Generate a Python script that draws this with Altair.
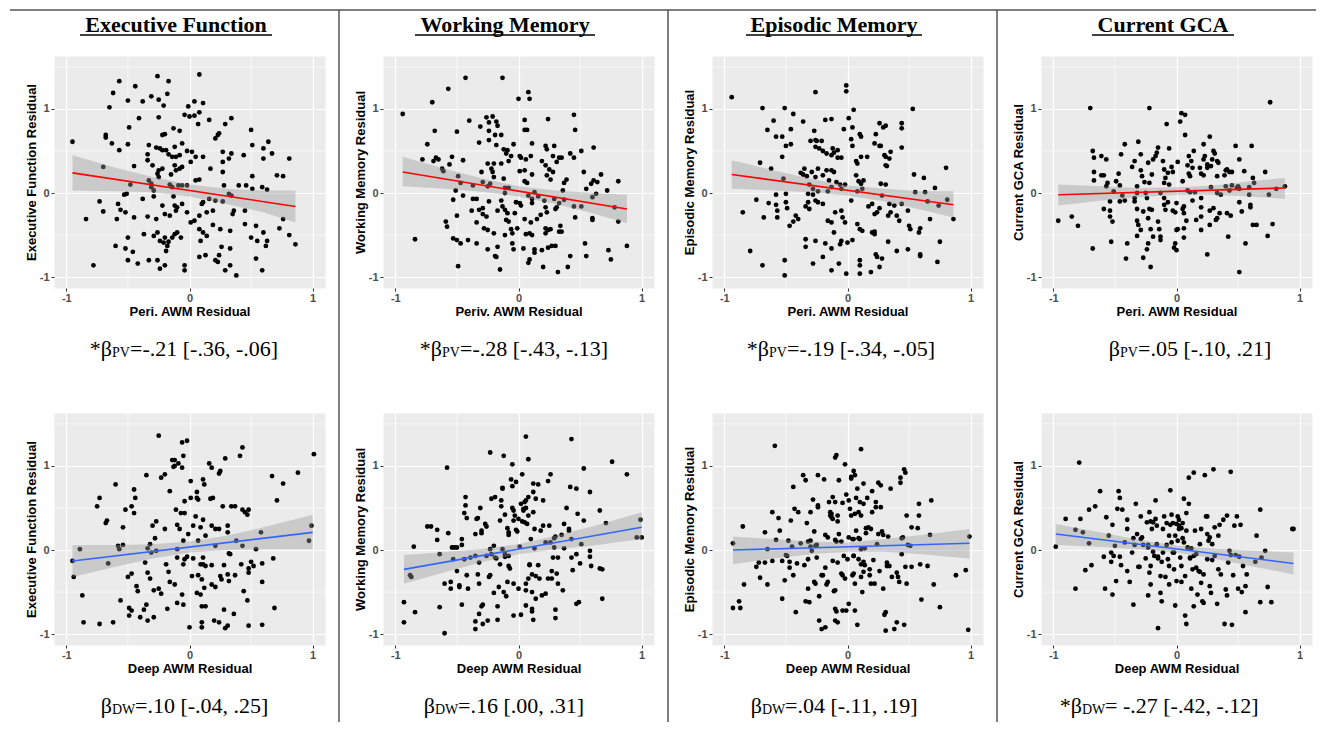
import altair as alt
import pandas as pd

# ---------------- text ----------------
COL_TITLES = ["Executive Function", "Working Memory", "Episodic Memory", "Current GCA"]
Y_TITLES = ["Executive Function Residual", "Working Memory Residual",
            "Episodic Memory Residual", "Current GCA Residual"]
X_TITLES_TOP = ["Peri. AWM Residual", "Periv. AWM Residual", "Peri. AWM Residual", "Peri. AWM Residual"]
X_TITLE_BOTTOM = "Deep AWM Residual"
CAPTIONS_TOP = [("*β", "PV", "=-.21 [-.36, -.06]"), ("*β", "PV", "=-.28 [-.43, -.13]"),
                ("*β", "PV", "=-.19 [-.34, -.05]"), ("β", "PV", "=.05 [-.10, .21]")]
CAPTIONS_BOTTOM = [("β", "DW", "=.10 [-.04, .25]"), ("β", "DW", "=.16 [.00, .31]"),
                   ("β", "DW", "=.04 [-.11, .19]"), ("*β", "DW", "= -.27 [-.42, -.12]")]
TICKS = [-1, 0, 1]
MINOR_X = [-0.5, 0.5]
MINOR_Y = [-0.5, 0.5, 1.5]

# ---------------- points ----------------
EF_PV = [(-0.95,0.61),(-0.57,1.33),(-0.62,1.19),(-0.44,1.27),(-0.26,1.39),(-0.17,1.33),(0.08,1.41),(-0.18,1.18),(-0.25,1.11),(-0.38,1.09),(-0.31,1.15),(-0.50,1.10),(-0.21,1.04),(-0.65,1.02),(-0.01,1.03),(0.04,1.09),(0.11,1.07),(0.08,0.96),(-0.04,0.93),(0.0,0.91),(0.04,0.92),(0.07,0.82),(-0.25,0.90),(-0.41,0.89),(-0.49,0.78),(-0.68,0.69),(-0.68,0.66),(-0.63,0.59),(-0.50,0.58),(-0.57,0.51),(-0.70,0.31),(-0.45,0.32),(-0.33,0.57),(-0.34,0.46),(-0.34,0.39),(-0.27,0.54),(-0.30,0.33),(-0.22,0.69),(-0.20,0.70),(-0.13,0.77),(-0.08,0.74),(-0.24,0.53),(-0.22,0.51),(-0.19,0.51),(-0.17,0.46),(-0.14,0.43),(-0.11,0.43),(-0.08,0.45),(-0.06,0.59),(-0.12,0.55),(-0.12,0.33),(-0.11,0.27),(-0.08,0.29),(-0.15,0.22),(-0.25,0.27),(-0.22,0.29),(-0.26,0.23),(-0.02,0.50),(0.02,0.49),(0.05,0.43),(0.11,0.43),(0.01,0.37),(-0.06,0.31),(0.05,0.15),(0.08,0.16),(0.16,0.87),(0.29,0.82),(0.34,0.89),(0.21,0.65),(0.23,0.69),(0.24,0.71),(0.27,0.49),(0.27,0.37),(0.32,0.41),(0.34,0.47),(0.27,0.25),(0.17,0.29),(0.50,0.75),(0.51,0.57),(0.44,0.45),(0.64,0.61),(0.60,0.53),(0.67,0.47),(0.60,0.41),(0.81,0.41),(0.71,0.21),(0.76,0.20),(0.51,0.20),(0.28,0.09),(0.40,0.09),(0.46,0.09),(0.51,0.05),(0.59,0.07),(0.63,0.04),(0.32,-0.01),(0.34,-0.03),(0.21,-0.09),(0.27,-0.10),(0.11,-0.11),(0.16,-0.07),(-0.02,0.09),(-0.09,0.09),(-0.06,0.09),(-0.16,0.10),(-0.14,0.07),(-0.25,0.19),(-0.33,0.15),(-0.31,0.11),(-0.31,0.07),(-0.29,0.03),(-0.48,0.10),(-0.51,-0.01),(-0.53,-0.02),(-0.73,-0.10),(-0.70,-0.22),(-0.84,-0.31),(-0.58,-0.13),(-0.56,-0.20),(-0.52,-0.23),(-0.59,-0.31),(-0.45,-0.29),(-0.38,-0.07),(-0.29,-0.04),(-0.34,-0.28),(-0.27,-0.31),(-0.22,-0.15),(-0.20,-0.25),(-0.16,-0.27),(-0.13,-0.04),(-0.12,-0.15),(-0.10,-0.17),(-0.11,-0.21),(-0.06,-0.13),(-0.02,-0.23),(0.01,-0.35),(0.04,-0.33),(0.08,-0.27),(0.10,-0.13),(0.14,-0.23),(0.19,-0.21),(0.19,-0.38),(0.25,-0.43),(0.33,-0.45),(0.11,-0.47),(0.14,-0.51),(0.09,-0.57),(0.08,-0.43),(-0.10,-0.47),(-0.12,-0.49),(-0.14,-0.53),(-0.07,-0.53),(-0.20,-0.53),(-0.26,-0.47),(-0.24,-0.57),(-0.29,-0.51),(-0.37,-0.49),(-0.50,-0.53),(-0.60,-0.63),(-0.52,-0.66),(-0.46,-0.70),(-0.21,-0.59),(-0.17,-0.58),(-0.18,-0.63),(-0.19,-0.69),(-0.50,-0.80),(-0.42,-0.84),(-0.33,-0.80),(-0.26,-0.80),(-0.24,-0.90),(-0.20,-0.86),(-0.78,-0.86),(-0.04,-0.86),(-0.04,-0.92),(0.08,-0.76),(0.13,-0.74),(0.21,-0.80),(0.23,-0.82),(0.24,-0.74),(0.29,-0.92),(0.33,-0.86),(0.38,-0.98),(0.33,-0.66),(0.26,-0.64),(0.45,-0.37),(0.50,-0.53),(0.54,-0.39),(0.55,-0.57),(0.60,-0.47),(0.63,-0.57),(0.62,-0.63),(0.54,-0.78),(0.59,-0.92),(0.73,-0.42),(0.76,-0.31),(0.81,-0.50),(0.86,-0.61),(0.35,-0.25),(0.36,-0.21),(0.45,-0.21)]

WM_PV = [(-0.94,0.94),(-0.43,1.37),(-0.13,1.37),(-0.57,1.24),(-0.70,1.08),(0.0,1.12),(0.08,1.20),(0.09,1.12),(-0.68,0.74),(-0.74,0.58),(-0.78,0.40),(-0.69,0.38),(-0.67,0.42),(-0.65,0.40),(-0.62,0.29),(-0.61,0.26),(-0.56,0.34),(-0.54,0.43),(-0.50,0.73),(-0.40,0.86),(-0.45,0.39),(-0.49,0.20),(-0.51,0.03),(-0.53,-0.08),(-0.50,-0.27),(-0.45,-0.03),(-0.47,0.12),(-0.59,-0.34),(-0.58,-0.40),(-0.84,-0.55),(-0.53,-0.54),(-0.50,-0.56),(-0.47,-0.60),(-0.41,-0.56),(-0.49,-0.87),(-0.34,-0.60),(-0.25,-0.67),(-0.19,-0.75),(-0.17,-0.64),(-0.15,-0.91),(-0.18,-0.76),(-0.37,0.09),(-0.32,0.60),(-0.31,0.79),(-0.26,0.90),(-0.24,0.84),(-0.21,0.91),(-0.18,0.85),(-0.17,0.80),(-0.24,0.74),(-0.19,0.69),(-0.14,0.69),(-0.24,0.63),(-0.18,0.57),(-0.12,0.52),(-0.10,0.47),(-0.09,0.51),(-0.06,0.44),(-0.04,0.58),(-0.08,0.38),(-0.14,0.35),(-0.20,0.35),(-0.25,0.35),(-0.22,0.29),(-0.21,0.25),(-0.30,0.25),(-0.29,0.13),(-0.23,0.11),(-0.25,0.08),(-0.20,0.19),(-0.12,0.17),(-0.11,0.06),(-0.11,0.0),(-0.08,0.06),(-0.37,-0.07),(-0.34,-0.07),(-0.38,-0.21),(-0.32,-0.20),(-0.29,-0.18),(-0.29,-0.25),(-0.26,-0.28),(-0.34,-0.35),(-0.28,-0.42),(-0.25,-0.44),(-0.20,-0.48),(-0.17,-0.21),(-0.24,-0.10),(-0.14,-0.09),(-0.13,-0.16),(-0.11,-0.20),(-0.09,-0.24),(-0.10,-0.32),(-0.08,-0.34),(-0.11,-0.50),(-0.06,-0.43),(-0.05,-0.48),(-0.05,-0.60),(-0.04,-0.67),(-0.02,-0.11),(0.01,-0.12),(0.02,-0.15),(-0.03,-0.24),(-0.01,-0.42),(0.05,-0.31),(0.04,-0.66),(0.08,-0.83),(0.09,-0.79),(0.13,-0.67),(0.06,-0.49),(0.09,-0.48),(0.11,-0.50),(0.10,-0.35),(0.15,-0.31),(0.18,-0.26),(0.11,-0.12),(0.08,-0.03),(0.11,-0.07),(0.13,0.01),(0.16,-0.04),(0.21,-0.09),(0.07,0.12),(0.05,0.14),(0.11,0.22),(0.05,0.27),(0.01,0.26),(0.06,0.40),(0.10,0.44),(0.01,0.44),(0.02,0.42),(0.05,0.87),(0.05,0.75),(0.07,0.75),(0.11,0.59),(0.24,0.88),(0.22,0.56),(0.23,0.52),(0.29,0.56),(0.28,0.44),(0.19,0.38),(0.22,0.33),(0.25,0.28),(0.31,0.37),(0.33,0.42),(0.35,0.42),(0.28,0.25),(0.26,0.16),(0.23,0.21),(0.39,0.16),(0.37,0.12),(0.36,0.03),(0.29,-0.07),(0.33,-0.12),(0.37,-0.08),(0.31,-0.17),(0.30,-0.19),(0.22,-0.17),(0.23,-0.23),(0.22,-0.42),(0.24,-0.44),(0.22,-0.48),(0.26,-0.43),(0.34,-0.39),(0.33,-0.46),(0.35,-0.46),(0.30,-0.63),(0.27,-0.63),(0.24,-0.65),(0.19,-0.68),(0.13,-0.71),(0.20,-0.88),(0.32,-0.94),(0.40,-0.88),(0.42,-0.75),(0.45,0.93),(0.46,0.75),(0.42,0.47),(0.45,0.42),(0.51,0.50),(0.61,0.54),(0.53,0.25),(0.55,0.05),(0.59,0.11),(0.61,0.15),(0.64,0.13),(0.67,0.22),(0.63,-0.01),(0.60,-0.05),(0.51,-0.16),(0.45,-0.16),(0.46,-0.29),(0.60,-0.30),(0.60,-0.32),(0.54,-0.60),(0.55,-0.75),(0.72,0.03),(0.81,0.14),(0.78,-0.17),(0.81,-0.34),(0.73,-0.68),(0.75,-0.79),(0.88,-0.63)]

EM_PV = [(-0.94,1.14),(-0.69,1.01),(-0.51,1.01),(-0.44,0.94),(-0.60,0.86),(-0.65,0.75),(-0.36,0.85),(-0.26,1.20),(-0.01,1.28),(-0.01,1.21),(0.05,0.99),(0.01,0.89),(-0.03,0.76),(0.04,0.78),(-0.18,0.87),(-0.13,0.88),(-0.46,0.76),(-0.53,0.67),(-0.46,0.58),(-0.50,0.56),(-0.27,0.74),(-0.26,0.63),(-0.30,0.62),(-0.25,0.62),(-0.21,0.62),(-0.26,0.55),(-0.23,0.53),(-0.20,0.50),(-0.17,0.47),(-0.12,0.53),(-0.11,0.48),(-0.08,0.51),(-0.13,0.45),(-0.08,0.42),(-0.05,0.42),(0.03,0.64),(0.04,0.56),(0.10,0.70),(0.11,0.67),(0.11,0.43),(0.07,0.38),(0.08,0.35),(0.16,0.43),(0.22,0.59),(0.23,0.70),(0.26,0.83),(0.29,0.78),(0.31,0.80),(0.26,0.56),(0.27,0.56),(0.30,0.45),(0.31,0.43),(0.34,0.41),(0.31,0.33),(0.32,0.32),(0.35,0.49),(0.44,0.83),(0.44,0.77),(0.44,0.54),(0.53,1.00),(-0.58,0.67),(-0.71,0.36),(-0.62,0.29),(-0.53,0.43),(-0.52,0.17),(-0.38,0.24),(-0.36,0.22),(-0.35,0.29),(-0.33,0.20),(-0.31,0.10),(-0.32,-0.01),(-0.29,0.25),(-0.26,0.19),(-0.24,0.29),(-0.20,0.21),(-0.17,0.27),(-0.13,0.27),(-0.11,0.25),(-0.15,0.15),(-0.09,0.13),(-0.06,0.10),(-0.02,0.10),(-0.13,0.07),(-0.16,0.02),(-0.05,0.05),(-0.28,0.05),(-0.24,0.02),(-0.28,-0.02),(-0.26,-0.09),(-0.24,-0.11),(-0.20,-0.13),(-0.32,-0.11),(-0.34,-0.16),(-0.31,-0.19),(-0.42,-0.27),(-0.40,-0.31),(-0.44,-0.34),(-0.47,-0.39),(-0.49,-0.18),(-0.50,-0.11),(-0.58,-0.14),(-0.57,-0.21),(-0.57,-0.29),(-0.64,-0.12),(-0.68,-0.29),(-0.74,-0.08),(-0.85,-0.23),(-0.58,-0.02),(-0.50,-0.01),(-0.79,-0.69),(-0.69,-0.86),(-0.51,-0.80),(-0.51,-0.98),(-0.34,-0.55),(-0.34,-0.64),(-0.26,-0.57),(-0.28,-0.84),(-0.20,-0.76),(-0.18,-0.60),(-0.13,-0.66),(-0.13,-0.92),(-0.07,-0.84),(-0.06,-0.61),(-0.05,-0.57),(-0.02,-0.35),(-0.04,-0.29),(-0.05,-0.21),(-0.10,-0.23),(-0.13,-0.35),(-0.16,-0.33),(-0.11,-0.47),(-0.01,-0.96),(0.0,-0.59),(0.04,-0.56),(0.03,-0.09),(0.07,0.21),(0.09,0.14),(0.13,0.15),(0.11,0.11),(0.08,0.02),(0.12,0.05),(0.08,-0.37),(0.10,-0.43),(0.12,-0.45),(0.10,-0.80),(0.10,-0.86),(0.10,-0.96),(0.19,-0.94),(0.17,-0.16),(0.20,-0.13),(0.22,-0.25),(0.24,-0.23),(0.20,-0.47),(0.22,-0.46),(0.22,-0.49),(0.23,-0.73),(0.24,-0.76),(0.28,-0.78),(0.26,-0.88),(0.28,-0.03),(0.27,0.11),(0.31,0.10),(0.26,-0.18),(0.34,-0.13),(0.33,-0.27),(0.33,-0.58),(0.38,-0.15),(0.40,-0.27),(0.42,-0.33),(0.40,-0.69),(0.35,-0.23),(0.44,-0.13),(0.49,-0.21),(0.50,-0.39),(0.51,-0.43),(0.49,-0.67),(0.54,0.22),(0.55,0.01),(0.58,-0.47),(0.59,-0.42),(0.59,-0.75),(0.59,-0.73),(0.62,0.18),(0.63,0.01),(0.65,-0.10),(0.67,-0.31),(0.71,0.06),(0.73,-0.82),(0.75,-0.58),(0.74,-0.15),(0.80,0.30),(0.81,-0.08),(0.86,-0.31)]

GCA_PV = [(-0.96,-0.33),(-0.85,-0.28),(-0.80,-0.39),(-0.70,1.01),(-0.68,0.50),(-0.67,0.42),(-0.67,0.25),(-0.67,0.15),(-0.68,-0.66),(-0.61,0.44),(-0.57,0.40),(-0.61,0.21),(-0.59,0.21),(-0.56,0.12),(-0.57,0.08),(-0.59,-0.19),(-0.54,-0.10),(-0.54,-0.21),(-0.54,-0.28),(-0.52,-0.34),(-0.53,-0.58),(-0.51,0.02),(-0.49,0.14),(-0.47,0.23),(-0.45,0.46),(-0.42,0.58),(-0.46,0.09),(-0.44,-0.03),(-0.46,-0.10),(-0.42,-0.09),(-0.40,-0.60),(-0.41,-0.78),(-0.36,0.31),(-0.34,0.38),(-0.31,0.61),(-0.29,0.46),(-0.29,0.27),(-0.32,0.08),(-0.32,0.0),(-0.34,-0.06),(-0.34,-0.10),(-0.32,-0.19),(-0.32,-0.33),(-0.31,-0.38),(-0.29,-0.44),(-0.32,-0.51),(-0.27,-0.77),(-0.24,-0.67),(-0.23,-0.60),(-0.21,-0.88),(-0.28,0.20),(-0.26,0.13),(-0.23,0.36),(-0.25,0.0),(-0.24,-0.06),(-0.22,0.12),(-0.22,1.01),(-0.20,0.22),(-0.19,0.40),(-0.17,0.44),(-0.16,0.48),(-0.15,0.54),(-0.22,-0.19),(-0.20,-0.20),(-0.27,-0.22),(-0.23,-0.30),(-0.21,-0.43),(-0.19,-0.52),(-0.15,-0.34),(-0.14,-0.43),(-0.13,-0.52),(-0.13,-0.56),(-0.13,0.0),(-0.11,0.38),(-0.10,0.28),(-0.08,0.82),(-0.06,0.53),(-0.09,0.18),(-0.07,0.24),(-0.10,0.12),(-0.10,-0.06),(-0.10,-0.14),(-0.09,-0.20),(-0.07,-0.11),(-0.06,0.10),(-0.04,0.31),(-0.03,0.25),(0.01,0.37),(0.0,-0.12),(-0.03,-0.21),(-0.01,-0.23),(0.0,-0.44),(0.01,-0.43),(-0.01,-0.60),(-0.02,-0.65),(0.0,-0.68),(0.03,0.85),(0.04,0.95),(0.07,0.93),(0.07,0.69),(0.05,0.14),(0.05,-0.19),(0.06,-0.16),(0.06,-0.24),(0.08,-0.33),(0.06,-0.42),(0.06,-0.53),(0.09,0.33),(0.10,0.23),(0.10,0.44),(0.12,0.38),(0.11,0.20),(0.13,0.30),(0.09,0.03),(0.11,0.01),(0.13,-0.09),(0.14,0.50),(0.16,-0.32),(0.20,-0.28),(0.20,-0.17),(0.20,-0.06),(0.15,0.01),(0.22,0.58),(0.22,0.40),(0.19,0.30),(0.20,0.23),(0.22,0.21),(0.23,0.44),(0.25,0.34),(0.27,0.67),(0.25,0.30),(0.28,0.32),(0.30,0.50),(0.31,0.47),(0.29,0.40),(0.33,0.38),(0.34,0.36),(0.33,0.20),(0.28,0.07),(0.30,-0.18),(0.27,-0.21),(0.27,-0.38),(0.20,-0.44),(0.25,-0.73),(0.33,0.0),(0.36,-0.02),(0.35,-0.24),(0.33,-0.30),(0.32,-0.32),(0.39,0.21),(0.40,0.27),(0.41,0.28),(0.43,0.25),(0.45,0.25),(0.40,0.08),(0.43,0.03),(0.45,0.09),(0.41,-0.24),(0.44,-0.27),(0.42,-0.52),(0.48,0.56),(0.51,0.40),(0.51,0.05),(0.50,0.08),(0.49,0.06),(0.51,-0.11),(0.53,-0.22),(0.51,-0.94),(0.55,0.26),(0.56,-0.60),(0.59,0.07),(0.59,-0.02),(0.60,-0.14),(0.60,-0.17),(0.61,0.56),(0.62,0.18),(0.63,0.12),(0.62,-0.38),(0.65,-0.38),(0.72,0.25),(0.74,-0.51),(0.75,-0.02),(0.76,1.08),(0.78,-0.37),(0.81,0.05),(0.88,0.08)]

EF_DW = [(-0.95,-0.13),(-0.94,-0.32),(-0.89,0.01),(-0.87,-0.54),(-0.86,-0.86),(-0.75,0.52),(-0.73,0.62),(-0.73,-0.88),(-0.68,0.32),(-0.67,0.35),(-0.66,-0.16),(-0.62,-0.86),(-0.60,0.78),(-0.58,0.05),(-0.57,0.01),(-0.56,-0.60),(-0.54,0.27),(-0.54,0.06),(-0.52,0.48),(-0.50,-0.32),(-0.49,-0.69),(-0.47,-0.72),(-0.49,-0.78),(-0.47,-0.28),(-0.47,0.52),(-0.45,0.72),(-0.44,0.62),(-0.45,0.44),(-0.43,-0.43),(-0.42,-0.49),(-0.40,-0.80),(-0.37,-0.71),(-0.36,-0.15),(-0.35,0.89),(-0.34,0.02),(-0.34,-0.27),(-0.35,-0.65),(-0.34,-0.84),(-0.32,-0.34),(-0.31,-0.03),(-0.32,0.07),(-0.30,0.29),(-0.29,-0.80),(-0.29,-0.48),(-0.28,0.14),(-0.27,0.34),(-0.25,1.36),(-0.23,0.86),(-0.20,0.90),(-0.27,-0.01),(-0.25,-0.46),(-0.23,-0.52),(-0.20,0.25),(-0.18,-0.70),(-0.17,-0.26),(-0.19,-0.17),(-0.16,0.70),(-0.16,-0.38),(-0.14,1.07),(-0.13,0.99),(-0.12,1.07),(-0.12,1.00),(-0.10,0.01),(-0.10,-0.09),(-0.11,0.48),(-0.10,0.30),(-0.12,-0.41),(-0.10,-0.63),(-0.09,1.03),(-0.08,0.25),(-0.07,0.44),(-0.06,0.98),(-0.06,1.28),(-0.05,1.12),(-0.02,1.30),(-0.04,0.44),(-0.04,0.58),(-0.05,0.11),(-0.04,-0.11),(-0.05,-0.17),(-0.06,-0.53),(-0.05,-0.65),(-0.02,-0.08),(-0.01,0.19),(0.0,-0.92),(0.01,0.82),(0.01,0.62),(0.02,-0.31),(0.03,-0.10),(0.03,0.29),(0.05,0.40),(0.06,0.69),(0.06,0.62),(0.07,0.60),(0.07,-0.30),(0.06,-0.51),(0.07,0.11),(0.09,0.27),(0.09,-0.17),(0.10,-0.86),(0.10,-0.92),(0.10,-0.35),(0.11,-0.09),(0.11,0.84),(0.12,0.78),(0.11,0.36),(0.13,0.17),(0.11,-0.17),(0.13,-0.19),(0.13,-0.67),(0.09,-0.53),(0.12,-0.45),(0.10,-0.67),(0.16,1.03),(0.17,0.61),(0.18,0.98),(0.19,0.62),(0.18,0.29),(0.18,-0.18),(0.18,-0.41),(0.20,-0.84),(0.21,0.05),(0.21,-0.44),(0.21,0.25),(0.24,0.25),(0.24,0.91),(0.25,0.94),(0.24,-0.86),(0.25,-0.31),(0.26,-0.35),(0.27,0.52),(0.28,-0.18),(0.28,-0.71),(0.29,-0.93),(0.29,1.09),(0.31,-0.29),(0.31,0.21),(0.31,0.29),(0.32,-0.04),(0.33,-0.05),(0.32,-0.37),(0.31,-0.90),(0.34,0.52),(0.36,-0.76),(0.37,0.52),(0.37,-0.30),(0.38,0.11),(0.41,1.12),(0.43,1.22),(0.43,0.48),(0.43,0.05),(0.42,-0.17),(0.45,0.45),(0.44,-0.49),(0.47,0.42),(0.48,0.48),(0.48,-0.22),(0.48,-0.27),(0.47,-0.60),(0.48,-0.90),(0.50,-0.14),(0.52,-0.19),(0.54,0.01),(0.58,0.21),(0.59,-0.16),(0.59,-0.38),(0.59,-0.89),(0.67,0.88),(0.68,-0.10),(0.69,-0.69),(0.71,0.59),(0.76,0.79),(0.88,0.92),(0.97,0.11),(0.99,0.29),(1.01,1.14)]

WM_DW = [(-0.93,-0.62),(-0.93,-0.86),(-0.88,-0.30),(-0.87,-0.32),(-0.85,0.04),(-0.84,-0.74),(-0.74,0.28),(-0.71,0.28),(-0.66,0.24),(-0.66,0.12),(-0.64,-0.05),(-0.64,-0.68),(-0.60,-0.40),(-0.60,-0.99),(-0.58,0.98),(-0.57,0.20),(-0.55,-0.38),(-0.55,-0.46),(-0.54,0.03),(-0.52,0.03),(-0.50,0.03),(-0.53,-0.11),(-0.50,-0.25),(-0.48,-0.42),(-0.48,-0.44),(-0.46,0.06),(-0.46,0.13),(-0.46,-0.65),(-0.44,-0.11),(-0.43,0.63),(-0.43,0.53),(-0.44,0.44),(-0.42,0.38),(-0.42,-0.30),(-0.41,-0.46),(-0.39,-0.09),(-0.35,-0.07),(-0.35,0.19),(-0.34,0.37),(-0.33,0.38),(-0.35,-0.94),(-0.35,-0.85),(-0.33,-0.29),(-0.32,-0.40),(-0.32,-0.76),(-0.31,0.50),(-0.30,0.23),(-0.30,0.20),(-0.32,-0.15),(-0.30,-0.67),(-0.29,-0.65),(-0.29,-0.88),(-0.27,0.31),(-0.26,0.28),(-0.26,-0.07),(-0.25,-0.84),(-0.23,-0.30),(-0.24,-0.32),(-0.23,1.16),(-0.23,0.01),(-0.22,0.61),(-0.22,-0.05),(-0.20,0.05),(-0.20,-0.51),(-0.19,0.63),(-0.19,-0.09),(-0.18,-0.10),(-0.17,-0.83),(-0.17,-0.67),(-0.16,-0.44),(-0.15,-0.17),(-0.15,0.35),(-0.14,0.59),(-0.14,0.52),(-0.13,0.01),(-0.12,-0.50),(-0.13,0.74),(-0.13,0.73),(-0.12,1.12),(-0.11,0.42),(-0.11,-0.05),(-0.11,-0.08),(-0.10,-0.55),(-0.09,-0.38),(-0.09,0.26),(-0.08,0.21),(-0.08,0.18),(-0.08,-0.07),(-0.08,-0.19),(-0.07,-0.22),(-0.06,0.84),(-0.05,1.02),(-0.05,0.76),(-0.05,0.50),(-0.04,0.47),(-0.03,0.41),(-0.04,0.35),(-0.04,-0.40),(-0.04,-0.78),(-0.02,0.24),(-0.02,0.81),(-0.01,0.22),(0.0,-0.46),(0.0,0.37),(0.01,0.04),(0.02,-0.77),(0.03,0.90),(0.03,0.34),(0.02,0.55),(0.04,0.49),(0.04,0.47),(0.05,0.33),(0.06,0.50),(0.05,0.57),(0.06,-0.66),(0.06,1.35),(0.06,0.59),(0.07,0.31),(0.08,0.63),(0.08,1.08),(0.08,0.41),(0.06,-0.40),(0.06,-0.48),(0.08,-0.34),(0.09,-0.18),(0.09,-0.17),(0.10,0.13),(0.11,-0.29),(0.11,-0.50),(0.11,-0.70),(0.11,-0.73),(0.12,-0.83),(0.12,0.79),(0.12,0.69),(0.12,0.45),(0.13,0.25),(0.13,0.02),(0.14,0.61),(0.14,-0.31),(0.14,-0.58),(0.16,0.78),(0.16,-0.18),(0.17,-0.34),(0.18,0.23),(0.19,-0.54),(0.20,0.59),(0.20,0.29),(0.22,0.09),(0.22,-0.52),(0.24,-0.34),(0.24,0.82),(0.25,0.29),(0.26,0.90),(0.26,0.09),(0.27,-0.25),(0.27,-0.34),(0.29,0.03),(0.28,-0.09),(0.29,0.14),(0.30,-0.81),(0.30,-0.71),(0.30,0.16),(0.31,-0.28),(0.32,-0.09),(0.32,-0.40),(0.35,0.18),(0.36,-0.48),(0.37,0.02),(0.37,0.31),(0.39,0.50),(0.41,0.25),(0.41,0.23),(0.42,0.75),(0.43,1.32),(0.43,0.13),(0.43,-0.09),(0.44,-0.24),(0.47,0.73),(0.47,-0.64),(0.47,-0.05),(0.48,0.43),(0.49,-0.62),(0.50,-0.16),(0.51,0.07),(0.53,0.97),(0.53,0.35),(0.58,0.69),(0.58,-0.01),(0.58,-0.08),(0.59,-0.19),(0.66,0.47),(0.66,-0.22),(0.68,-0.23),(0.68,-0.58),(0.71,0.32),(0.76,1.05),(0.88,0.90),(0.96,0.15),(0.99,0.36),(1.0,0.15)]

EM_DW = [(-0.93,0.08),(-0.93,-0.69),(-0.88,-0.61),(-0.87,-0.69),(-0.85,0.28),(-0.84,-0.41),(-0.74,-0.20),(-0.72,-0.15),(-0.71,-0.33),(-0.67,0.21),(-0.67,-0.15),(-0.65,-0.41),(-0.65,0.01),(-0.61,-0.13),(-0.61,0.45),(-0.59,1.24),(-0.58,0.12),(-0.56,0.38),(-0.55,0.23),(-0.53,-0.58),(-0.53,-0.13),(-0.51,-0.36),(-0.50,-0.06),(-0.49,-0.07),(-0.48,0.11),(-0.47,-0.14),(-0.47,-0.21),(-0.46,0.35),(-0.45,0.04),(-0.44,0.75),(-0.44,-0.30),(-0.43,0.49),(-0.42,-0.74),(-0.41,-0.16),(-0.40,0.45),(-0.38,0.08),(-0.36,0.89),(-0.35,-0.18),(-0.34,-0.61),(-0.34,0.83),(-0.33,0.32),(-0.32,0.10),(-0.32,-0.11),(-0.32,-0.46),(-0.31,-0.62),(-0.30,0.11),(-0.30,0.45),(-0.30,0.04),(-0.29,-0.01),(-0.28,0.60),(-0.27,0.22),(-0.27,-0.38),(-0.26,0.05),(-0.25,0.06),(-0.25,-0.09),(-0.26,-0.40),(-0.24,0.51),(-0.24,0.53),(-0.24,0.89),(-0.23,-0.55),(-0.23,-0.84),(-0.21,-0.30),(-0.21,-0.94),(-0.20,-0.30),(-0.19,0.84),(-0.18,0.18),(-0.18,-0.21),(-0.17,-0.41),(-0.16,-0.38),(-0.18,-0.92),(-0.16,0.15),(-0.15,0.57),(-0.14,0.45),(-0.14,0.41),(-0.13,0.39),(-0.13,0.43),(-0.12,0.63),(-0.12,0.37),(-0.12,-0.13),(-0.11,-0.49),(-0.10,-0.48),(-0.10,1.10),(-0.09,1.13),(-0.10,0.57),(-0.10,0.12),(-0.09,0.10),(-0.08,0.34),(-0.08,0.41),(-0.10,-0.70),(-0.10,-0.84),(-0.08,-0.86),(-0.09,-0.73),(-0.08,-0.15),(-0.07,0.83),(-0.07,0.19),(-0.05,0.10),(-0.05,-0.28),(-0.04,-0.30),(-0.04,-0.72),(-0.04,0.56),(-0.03,-0.07),(-0.02,-0.34),(-0.02,1.02),(-0.01,0.66),(-0.01,-0.72),(0.0,-0.11),(0.01,0.15),(0.01,-0.64),(0.01,0.59),(0.02,0.49),(0.03,0.85),(0.03,0.41),(0.03,0.87),(0.04,-0.30),(0.04,0.13),(0.05,0.94),(0.05,-0.07),(0.05,-0.28),(0.05,0.13),(0.05,-0.07),(0.06,0.43),(0.06,0.89),(0.06,-0.40),(0.06,-0.72),(0.07,0.62),(0.07,0.23),(0.08,0.73),(0.08,-0.89),(0.09,0.14),(0.09,-0.11),(0.09,0.45),(0.10,0.57),(0.10,0.13),(0.11,0.41),(0.11,1.20),(0.11,-0.32),(0.11,0.01),(0.11,-0.17),(0.12,-0.50),(0.13,0.79),(0.13,-0.14),(0.13,-0.26),(0.13,0.55),(0.14,0.02),(0.14,-0.18),(0.15,0.26),(0.15,0.20),(0.16,0.62),(0.17,0.27),(0.18,-0.23),(0.18,-0.30),(0.19,-0.40),(0.19,0.25),(0.20,0.70),(0.20,0.45),(0.21,-0.12),(0.22,-0.40),(0.23,0.57),(0.23,0.51),(0.24,0.07),(0.25,0.19),(0.25,0.80),(0.26,-0.25),(0.27,0.77),(0.27,0.51),(0.28,0.22),(0.29,-0.46),(0.29,0.18),(0.30,-0.77),(0.31,-0.74),(0.31,-0.96),(0.32,-0.15),(0.32,-0.19),(0.33,0.16),(0.34,-0.19),(0.35,0.73),(0.36,-0.32),(0.38,-0.94),(0.40,-0.86),(0.40,-0.27),(0.41,-0.32),(0.42,-0.38),(0.43,0.86),(0.43,0.80),(0.44,-0.05),(0.44,0.14),(0.45,0.15),(0.46,-0.89),(0.46,0.96),(0.47,0.92),(0.47,-0.20),(0.48,-0.40),(0.48,0.41),(0.49,0.06),(0.51,0.05),(0.52,-0.20),(0.52,0.27),(0.57,0.26),(0.58,0.41),(0.58,0.55),(0.59,-0.17),(0.60,-0.59),(0.65,-0.19),(0.67,0.18),(0.68,0.59),(0.70,-0.41),(0.75,-0.68),(0.88,-0.30),(0.96,-0.24),(0.99,0.16),(0.98,-0.95)]

GCA_DW = [(-0.98,0.04),(-0.90,0.37),(-0.82,-0.46),(-0.82,0.24),(-0.79,1.04),(-0.78,0.37),(-0.76,0.21),(-0.74,-0.24),(-0.71,0.08),(-0.71,0.48),(-0.69,-0.18),(-0.66,0.52),(-0.62,0.70),(-0.59,-0.08),(-0.58,-0.46),(-0.57,0.39),(-0.55,0.17),(-0.53,-0.03),(-0.53,-0.14),(-0.52,-0.53),(-0.52,0.30),(-0.51,-0.07),(-0.50,0.05),(-0.49,-0.37),(-0.48,0.49),(-0.47,0.70),(-0.46,0.62),(-0.46,-0.08),(-0.45,-0.18),(-0.44,0.48),(-0.42,0.09),(-0.40,0.36),(-0.40,-0.25),(-0.40,0.25),(-0.38,-0.38),(-0.36,-0.03),(-0.35,0.14),(-0.35,-0.65),(-0.34,0.06),(-0.33,0.55),(-0.32,0.19),(-0.31,-0.20),(-0.30,-0.20),(-0.29,0.40),(-0.29,0.13),(-0.28,0.15),(-0.27,0.06),(-0.25,-0.10),(-0.24,0.33),(-0.23,0.06),(-0.23,0.03),(-0.23,-0.54),(-0.22,-0.27),(-0.22,0.45),(-0.21,-0.19),(-0.21,-0.41),(-0.21,0.34),(-0.20,0.25),(-0.19,-0.02),(-0.19,0.33),(-0.18,-0.07),(-0.17,0.37),(-0.17,0.59),(-0.16,0.29),(-0.16,0.07),(-0.15,-0.08),(-0.15,-0.93),(-0.15,-0.10),(-0.13,-0.51),(-0.13,-0.31),(-0.12,-0.61),(-0.12,-0.14),(-0.11,-0.03),(-0.11,0.25),(-0.10,0.40),(-0.09,-0.32),(-0.08,0.06),(-0.08,0.32),(-0.07,-0.11),(-0.06,0.17),(-0.06,-0.19),(-0.06,-0.41),(-0.05,0.71),(-0.05,0.30),(-0.04,0.42),(-0.04,0.09),(-0.03,-0.03),(-0.03,0.32),(-0.02,-0.03),(-0.02,-0.23),(-0.01,-0.66),(-0.01,0.17),(0.0,-0.37),(0.0,0.31),(0.01,0.40),(0.01,0.11),(0.02,0.36),(0.02,0.29),(0.02,0.25),(0.03,-0.09),(0.04,-0.19),(0.04,-0.38),(0.04,0.26),(0.05,0.32),(0.05,0.14),(0.06,0.09),(0.06,0.61),(0.07,-0.78),(0.07,-0.31),(0.08,0.44),(0.08,-0.88),(0.08,0.23),(0.09,0.03),(0.10,0.86),(0.10,0.55),(0.11,-0.10),(0.11,-0.09),(0.12,0.02),(0.12,-0.46),(0.13,-0.23),(0.14,-0.67),(0.14,0.92),(0.14,-0.07),(0.15,0.23),(0.16,-0.21),(0.16,-0.05),(0.17,-0.53),(0.18,-0.25),(0.19,0.07),(0.19,-0.26),(0.20,0.25),(0.20,-0.39),(0.21,-0.61),(0.22,-0.63),(0.22,-0.29),(0.23,0.89),(0.24,0.40),(0.25,0.40),(0.25,0.19),(0.25,-0.11),(0.26,0.11),(0.27,0.15),(0.27,-0.43),(0.28,-0.51),(0.29,0.07),(0.29,-0.12),(0.30,0.96),(0.31,-0.07),(0.31,0.27),(0.33,-0.64),(0.34,-0.23),(0.34,0.17),(0.35,0.30),(0.36,-0.29),(0.38,0.36),(0.39,-0.88),(0.40,-0.47),(0.41,0.41),(0.41,-0.54),(0.42,-0.15),(0.43,-0.01),(0.44,0.93),(0.44,-0.06),(0.45,-0.89),(0.46,-0.30),(0.47,0.29),(0.48,-0.06),(0.49,0.40),(0.50,-0.46),(0.51,-0.08),(0.52,0.30),(0.53,-0.50),(0.54,-0.19),(0.56,-0.43),(0.56,-0.74),(0.57,-0.29),(0.64,-0.14),(0.65,0.17),(0.68,0.48),(0.68,-0.62),(0.69,-0.09),(0.72,-0.01),(0.74,-0.44),(0.77,-0.62),(0.94,0.25),(0.95,0.25)]

# fitted lines: (x0, y0, x1, y1)
LINE_TOP = [(-0.95, 0.24, 0.86, -0.16), (-0.94, 0.25, 0.88, -0.19),
            (-0.94, 0.22, 0.86, -0.14), (-0.96, -0.02, 0.88, 0.06)]
LINE_BOTTOM = [(-0.95, -0.13, 1.00, 0.21), (-0.93, -0.23, 1.00, 0.27),
               (-0.93, 0.00, 0.99, 0.08), (-0.98, 0.19, 0.95, -0.16)]

# confidence bands: x, lower, upper
BAND_X_TOP = [[-0.95, -0.6, -0.3, 0.0, 0.3, 0.6, 0.86], [-0.94, -0.6, -0.3, 0.0, 0.3, 0.6, 0.88],
              [-0.94, -0.6, -0.3, 0.0, 0.3, 0.6, 0.86], [-0.96, -0.6, -0.3, 0.0, 0.3, 0.6, 0.88]]
BAND_LO_TOP = [[0.03, 0.02, 0.01, -0.04, -0.13, -0.23, -0.35], [0.08, 0.05, 0.015, -0.04, -0.13, -0.24, -0.36],
               [0.05, 0.03, 0.01, -0.03, -0.10, -0.20, -0.29], [-0.15, -0.09, -0.05, -0.02, -0.02, -0.04, -0.07]]
BAND_HI_TOP = [[0.45, 0.30, 0.19, 0.10, 0.05, 0.03, 0.03], [0.43, 0.29, 0.175, 0.08, 0.03, 0.0, -0.02],
               [0.39, 0.27, 0.17, 0.09, 0.05, 0.02, 0.02], [0.10, 0.08, 0.06, 0.07, 0.09, 0.14, 0.18]]
BAND_X_BOTTOM = [[-0.95, -0.6, -0.3, 0.0, 0.3, 0.6, 1.0], [-0.93, -0.6, -0.3, 0.0, 0.3, 0.6, 1.0],
                 [-0.93, -0.6, -0.3, 0.0, 0.3, 0.6, 0.99], [-0.98, -0.6, -0.3, 0.0, 0.3, 0.6, 0.95]]
BAND_LO_BOTTOM = [[-0.32, -0.20, -0.10, -0.03, 0.0, 0.01, 0.01], [-0.40, -0.265, -0.147, -0.05, 0.01, 0.05, 0.13],
                  [-0.17, -0.10, -0.05, -0.02, -0.02, -0.05, -0.10], [0.06, 0.035, 0.01, -0.03, -0.10, -0.19, -0.29]]
BAND_HI_BOTTOM = [[0.06, 0.06, 0.07, 0.10, 0.17, 0.27, 0.42], [-0.06, -0.025, 0.013, 0.07, 0.17, 0.28, 0.45],
                  [0.16, 0.13, 0.10, 0.09, 0.13, 0.18, 0.25], [0.31, 0.205, 0.12, 0.055, 0.015, -0.005, -0.03]]

POINTS_TOP = [EF_PV, WM_PV, EM_PV, GCA_PV]
POINTS_BOTTOM = [EF_DW, WM_DW, EM_DW, GCA_DW]

# ---------------- style / layout ----------------
RED = "#FF0000"
BLUE = "#3366FF"
SERIF = "Liberation Serif"
SANS = "Liberation Sans"
PW, PH = 271, 232
COL_SPACING = 58
ROW_SPACING = 125
TITLE_X = 122
TITLE_Y = -24
UNDERLINE_W = [192, 180, 176, 142]
CAP_Y = 300
CAP_ANCHOR_TOP = [76, 77, 75, 97]
CAP_ANCHOR_BOTTOM = [81, 75, 73, 64]
SUB_W = {"PV": 18, "DW": 23}
SEP_X = 285
SEP_COLOR = "#555555"

XS = alt.Scale(domain=[-1.1, 1.1], nice=False, zero=False)
YS = alt.Scale(domain=[-1.13, 1.63], nice=False, zero=False)


def one(val):
    return pd.DataFrame({"t": [val]})


def panel(points, line, bx, blo, bhi, color, xtitle, ytitle, cap, anchor,
          title=None, ul_w=None, sep=False, topline=False):
    xa = alt.Axis(title=xtitle, values=TICKS, labelExpr="'' + datum.value",
                  titleY=27, titleBaseline="alphabetic", labelPadding=1)
    ya = alt.Axis(title=ytitle, values=TICKS, labelExpr="'' + datum.value",
                  titleX=-19, titleBaseline="alphabetic", labelPadding=2)
    layers = []
    layers.append(alt.Chart(pd.DataFrame({"v": MINOR_X})).mark_rule(color="white", strokeWidth=0.6)
                  .encode(x=alt.X("v:Q", scale=XS, axis=xa)))
    layers.append(alt.Chart(pd.DataFrame({"v": MINOR_Y})).mark_rule(color="white", strokeWidth=0.6)
                  .encode(y=alt.Y("v:Q", scale=YS, axis=ya)))
    layers.append(alt.Chart(pd.DataFrame(points, columns=["x", "y"]))
                  .mark_circle(size=23, color="black", opacity=1)
                  .encode(x=alt.X("x:Q", scale=XS, axis=xa), y=alt.Y("y:Q", scale=YS, axis=ya)))
    layers.append(alt.Chart(pd.DataFrame({"x": bx, "lo": blo, "hi": bhi}))
                  .mark_area(color="#999999", opacity=0.4, orient="vertical")
                  .encode(x=alt.X("x:Q", scale=XS, axis=xa), y=alt.Y("lo:Q", scale=YS, axis=ya), y2="hi:Q"))
    layers.append(alt.Chart(pd.DataFrame({"x": [line[0], line[2]], "y": [line[1], line[3]]}))
                  .mark_line(color=color, strokeWidth=1.6)
                  .encode(x=alt.X("x:Q", scale=XS, axis=xa), y=alt.Y("y:Q", scale=YS, axis=ya)))
    pre, sub, rest = cap
    sw = SUB_W[sub]
    layers.append(alt.Chart(one(pre)).mark_text(align="right", baseline="alphabetic", font=SERIF,
                                                fontSize=22, color="black")
                  .encode(x=alt.value(anchor - sw), y=alt.value(CAP_Y), text="t:N"))
    layers.append(alt.Chart(one(sub)).mark_text(align="left", baseline="alphabetic", font=SERIF,
                                                fontSize=14, color="black")
                  .encode(x=alt.value(anchor - sw), y=alt.value(CAP_Y + 1), text="t:N"))
    layers.append(alt.Chart(one(rest)).mark_text(align="left", baseline="alphabetic", font=SERIF,
                                                 fontSize=22, color="black")
                  .encode(x=alt.value(anchor), y=alt.value(CAP_Y), text="t:N"))
    if title is not None:
        layers.append(alt.Chart(one(title)).mark_text(align="center", baseline="alphabetic", font=SERIF,
                                                      fontSize=22, fontWeight="bold", color="black")
                      .encode(x=alt.value(TITLE_X), y=alt.value(TITLE_Y), text="t:N"))
        layers.append(alt.Chart(one(title)).mark_rule(color="black", strokeWidth=1.6)
                      .encode(x=alt.value(TITLE_X - ul_w / 2), x2=alt.value(TITLE_X + ul_w / 2),
                              y=alt.value(TITLE_Y + 3)))
    if sep:
        layers.append(alt.Chart(one("sep")).mark_rule(color=SEP_COLOR, strokeWidth=1.5)
                      .encode(x=alt.value(SEP_X), y=alt.value(-46), y2=alt.value(666)))
    if topline:
        layers.append(alt.Chart(one("top")).mark_rule(color=SEP_COLOR, strokeWidth=1.5)
                      .encode(x=alt.value(-44), x2=alt.value(1262), y=alt.value(-46)))
    return alt.layer(*layers).properties(width=PW, height=PH)


panels = []
for i in range(4):
    panels.append(panel(POINTS_TOP[i], LINE_TOP[i], BAND_X_TOP[i], BAND_LO_TOP[i], BAND_HI_TOP[i], RED,
                        X_TITLES_TOP[i], Y_TITLES[i], CAPTIONS_TOP[i], CAP_ANCHOR_TOP[i],
                        title=COL_TITLES[i], ul_w=UNDERLINE_W[i], sep=(i < 3), topline=(i == 0)))
for i in range(4):
    panels.append(panel(POINTS_BOTTOM[i], LINE_BOTTOM[i], BAND_X_BOTTOM[i], BAND_LO_BOTTOM[i],
                        BAND_HI_BOTTOM[i], BLUE, X_TITLE_BOTTOM, Y_TITLES[i], CAPTIONS_BOTTOM[i],
                        CAP_ANCHOR_BOTTOM[i]))

chart = (
    alt.concat(*panels, columns=4, bounds="flush",
               spacing=alt.RowColnumber(row=ROW_SPACING, column=COL_SPACING))
    .properties(padding=0, background="white")
    .configure_view(fill="#EBEBEB", stroke="transparent")
    .configure_axis(gridColor="white", gridWidth=1.2, domain=False, tickColor="#333333", tickSize=3,
                    tickWidth=1, labelColor="#4D4D4D", labelFont=SANS, labelFontSize=11,
                    labelFontWeight="bold", titleFont=SANS, titleFontSize=13, titleFontWeight="bold",
                    titleColor="black")
)

chart.save("out.html", embed_options={"renderer": "svg", "actions": False})
